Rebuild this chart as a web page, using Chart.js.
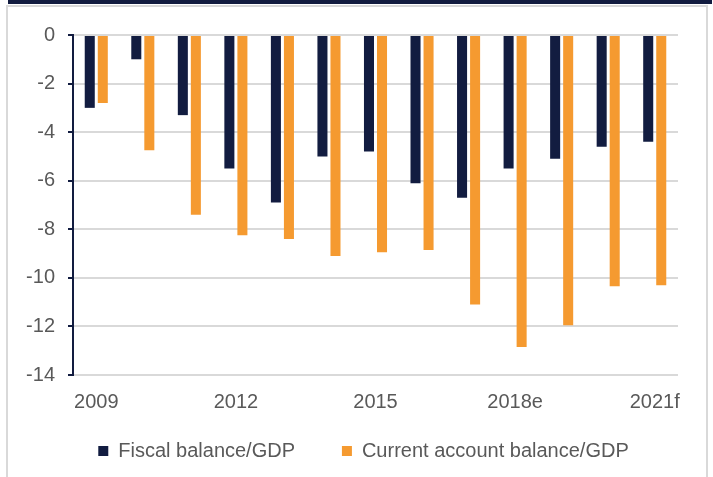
<!DOCTYPE html>
<html>
<head>
<title>Fiscal and current account balance</title>
<script src="https://cdn.jsdelivr.net/npm/chart.js@4"></script>
<style>
  body { margin: 0; background: #fff; }
  #wrap { position: relative; width: 713px; height: 477px; overflow: hidden; }
  #band { position: absolute; left: 8px; top: 0; width: 704px; height: 4px; background: #121c40; }
  #frame { position: absolute; left: 6px; top: 5px; width: 698px; height: 500px; border: 2px solid #d9d9d9; }
  #chart { position: absolute; left: 0; top: 0; }
</style>
</head>
<body>
<div id="wrap">
  <div id="band"></div>
  <div id="frame"></div>
  <canvas id="chart" width="713" height="477"></canvas>
</div>
<script>
  // % of GDP
  const years = ['2009', '2010', '2011', '2012', '2013', '2014', '2015',
                 '2016', '2017', '2018e', '2019f', '2020f', '2021f']
  const fiscal = [-3.0, -1.0, -3.3, -5.5, -6.9, -5.0, -4.8, -6.1, -6.7, -5.5, -5.1, -4.6, -4.4]
  const currentAccount = [-2.8, -4.75, -7.4, -8.25, -8.4, -9.1, -8.95, -8.85, -11.1, -12.85, -11.95, -10.35, -10.3]

  const navy = '#121c40'
  const orange = '#f59a30'
  const grey = '#595959'
  const font = { family: '"Liberation Sans", Arial, sans-serif', size: 20 }

  new Chart(document.getElementById('chart'), {
    type: 'bar',
    data: {
      labels: years,
      datasets: [
        { label: 'Fiscal balance/GDP', data: fiscal, backgroundColor: navy },
        { label: 'Current account balance/GDP', data: currentAccount, backgroundColor: orange },
      ],
    },
    options: {
      responsive: false,
      animation: false,
      devicePixelRatio: 1,
      categoryPercentage: 0.56,
      barPercentage: 0.77,
      layout: { padding: { left: 14, right: 0, top: 35, bottom: 6 } },
      plugins: {
        tooltip: { enabled: false },
        legend: {
          position: 'bottom',
          labels: {
            boxWidth: 10,
            boxHeight: 10,
            padding: 8,
            color: grey,
            font: { ...font, lineHeight: 1 },
            // wider gap between the two entries, as in the original
            generateLabels: chart => {
              const items = Chart.defaults.plugins.legend.labels.generateLabels(chart)
              items[0].text += '       '
              return items
            },
          },
        },
      },
      scales: {
        x: {
          grid: { display: false, drawTicks: false },
          border: { display: false },
          ticks: {
            autoSkip: false,
            maxRotation: 0,
            padding: 15,
            color: grey,
            font,
            callback: (v, i) => (i % 3 === 0 ? years[i] : ''),
          },
          afterFit: s => { s.height = 58 },
        },
        y: {
          min: -14,
          max: 0,
          ticks: { stepSize: 2, padding: 13, color: grey, font },
          grid: { color: '#d9d9d9', lineWidth: 2, tickColor: navy, tickLength: 5, tickWidth: 2 },
          border: { color: navy, width: 2 },
          afterFit: s => { s.width = 59 },
        },
        // empty right-hand spacer so the plot stops where the original does
        spacer: {
          position: 'right',
          grid: { display: false, drawTicks: false },
          border: { display: false },
          ticks: { display: false },
          afterFit: s => { s.width = 35 },
        },
      },
    },
  })
</script>
</body>
</html>
